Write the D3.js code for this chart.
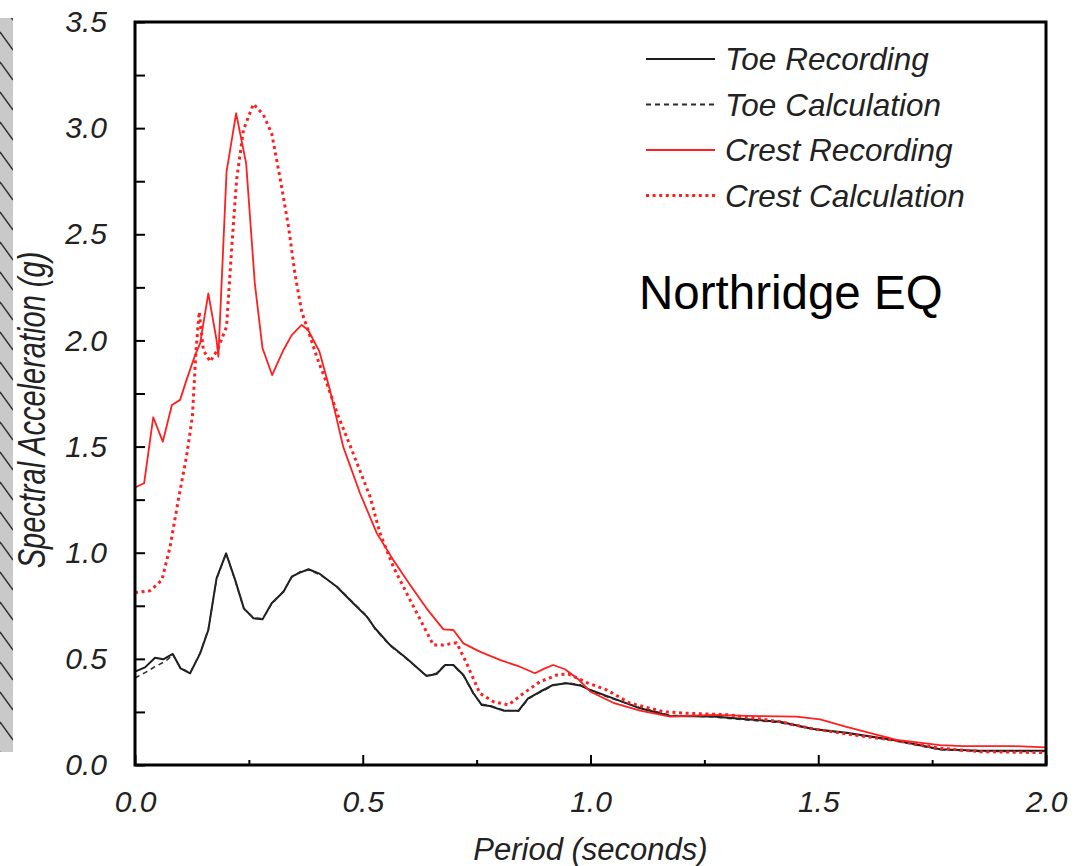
<!DOCTYPE html>
<html>
<head>
<meta charset="utf-8">
<script src="https://cdn.jsdelivr.net/npm/d3@7"></script>
<style>
  html, body { margin: 0; padding: 0; background: #fff; }
  svg { display: block; font-family: "Liberation Sans", Arial, sans-serif; }
</style>
</head>
<body>
<svg id="chart"></svg>
<script>
// spectral acceleration (g) vs period (s)
const toeRecording = [
  [0.000,0.440],[0.022,0.460],[0.044,0.505],[0.062,0.498],[0.083,0.523],[0.100,0.455],
  [0.121,0.432],[0.143,0.526],[0.161,0.636],[0.179,0.879],[0.200,0.997],[0.220,0.871],
  [0.239,0.738],[0.260,0.691],[0.280,0.686],[0.300,0.762],[0.326,0.816],[0.344,0.887],
  [0.362,0.906],[0.381,0.922],[0.406,0.900],[0.443,0.840],[0.479,0.762],[0.509,0.699],
  [0.527,0.644],[0.560,0.565],[0.596,0.503],[0.640,0.419],[0.662,0.429],[0.681,0.471],
  [0.699,0.471],[0.721,0.424],[0.743,0.338],[0.761,0.283],[0.779,0.278],[0.809,0.256],
  [0.842,0.256],[0.863,0.314],[0.889,0.345],[0.918,0.377],[0.948,0.385],[0.977,0.375],
  [1.000,0.353],[1.050,0.314],[1.109,0.267],[1.175,0.231],[1.270,0.228],[1.343,0.215],
  [1.416,0.204],[1.489,0.170],[1.562,0.152],[1.672,0.115],[1.767,0.074],[1.855,0.067],
  [2.000,0.067]
]
const toeCalculation = [
  [0.000,0.410],[0.022,0.435],[0.044,0.463],[0.068,0.490],[0.083,0.520],[0.100,0.458],
  [0.121,0.434],[0.143,0.528],[0.161,0.640],[0.179,0.875],[0.200,0.995],[0.220,0.868],
  [0.239,0.735],[0.260,0.694],[0.280,0.689],[0.300,0.758],[0.326,0.820],[0.344,0.884],
  [0.362,0.910],[0.381,0.918],[0.406,0.896],[0.443,0.842],[0.479,0.765],[0.509,0.702],
  [0.527,0.640],[0.560,0.562],[0.596,0.500],[0.640,0.421],[0.662,0.432],[0.681,0.474],
  [0.699,0.468],[0.721,0.420],[0.743,0.335],[0.761,0.286],[0.779,0.280],[0.809,0.259],
  [0.842,0.253],[0.863,0.310],[0.889,0.342],[0.918,0.374],[0.948,0.388],[0.977,0.378],
  [1.000,0.350],[1.050,0.311],[1.109,0.270],[1.175,0.234],[1.270,0.226],[1.343,0.212],
  [1.416,0.200],[1.489,0.168],[1.562,0.150],[1.672,0.112],[1.767,0.072],[1.855,0.064],
  [2.000,0.064]
]
const crestRecording = [
  [0.000,1.307],[0.020,1.327],[0.040,1.638],[0.061,1.523],[0.081,1.696],[0.099,1.720],
  [0.113,1.813],[0.132,1.931],[0.143,1.986],[0.161,2.222],[0.179,2.002],[0.183,1.923],
  [0.201,2.795],[0.222,3.070],[0.244,2.834],[0.263,2.269],[0.280,1.963],[0.301,1.837],
  [0.326,1.955],[0.344,2.025],[0.366,2.073],[0.380,2.049],[0.405,1.947],[0.428,1.766],
  [0.457,1.500],[0.494,1.280],[0.531,1.091],[0.567,0.966],[0.604,0.848],[0.640,0.738],
  [0.677,0.639],[0.699,0.636],[0.721,0.573],[0.757,0.534],[0.801,0.495],[0.845,0.463],
  [0.878,0.432],[0.900,0.455],[0.918,0.471],[0.944,0.451],[0.973,0.404],[1.000,0.345],
  [1.050,0.293],[1.109,0.256],[1.175,0.228],[1.270,0.236],[1.343,0.231],[1.452,0.228],
  [1.504,0.215],[1.562,0.180],[1.672,0.118],[1.767,0.094],[1.818,0.089],[1.928,0.089],
  [2.000,0.083]
]
const crestCalculation = [
  [0.000,0.812],[0.033,0.821],[0.059,0.871],[0.077,1.028],[0.095,1.248],[0.113,1.452],
  [0.126,1.641],[0.134,1.955],[0.141,2.135],[0.150,1.955],[0.165,1.900],[0.181,1.955],
  [0.201,2.065],[0.212,2.426],[0.223,2.756],[0.238,2.991],[0.260,3.114],[0.282,3.062],
  [0.300,2.976],[0.318,2.771],[0.337,2.536],[0.351,2.316],[0.366,2.135],[0.381,2.041],
  [0.399,1.923],[0.421,1.798],[0.445,1.650],[0.479,1.468],[0.516,1.264],[0.538,1.091],
  [0.567,0.934],[0.604,0.777],[0.655,0.565],[0.677,0.565],[0.706,0.576],[0.728,0.479],
  [0.757,0.338],[0.787,0.298],[0.820,0.283],[0.853,0.338],[0.889,0.392],[0.926,0.424],
  [0.951,0.429],[0.992,0.388],[1.036,0.353],[1.087,0.291],[1.160,0.251],[1.211,0.244],
  [1.306,0.236],[1.416,0.204],[1.489,0.170],[1.562,0.146],[1.672,0.115],[1.767,0.079],
  [1.855,0.063],[2.000,0.058]
]

const xMajorTicks = [0, 0.5, 1.0, 1.5, 2.0]
const xMinorTicks = [0.25, 0.75, 1.25, 1.75]
const yMajorTicks = [0, 0.5, 1.0, 1.5, 2.0, 2.5, 3.0, 3.5]
const yMinorTicks = [0.25, 0.75, 1.25, 1.75, 2.25, 2.75, 3.25]

const seriesNames = ['Toe Recording', 'Toe Calculation', 'Crest Recording', 'Crest Calculation']
const seriesData = [toeRecording, toeCalculation, crestRecording, crestCalculation]
const seriesStyle = [
  {color: '#1c1c1c', width: 2, dash: null},
  {color: '#2a2a2a', width: 1.5, dash: '5,4'},
  {color: '#ff1f1f', width: 1.8, dash: null},
  {color: '#ff1f1f', width: 3, dash: '3,3.6'}
]

const width = 1077, height = 866
const svg = d3.select('#chart').attr('width', width).attr('height', height)

// gray strip on the left edge (cropped neighbour image)
const pat = svg.append('defs').append('pattern')
  .attr('id', 'hatch').attr('patternUnits', 'userSpaceOnUse')
  .attr('width', 14).attr('height', 30)
pat.append('rect').attr('width', 14).attr('height', 30).attr('fill', '#c9c9c9')
pat.append('line').attr('x1', 0).attr('y1', 2).attr('x2', 13).attr('y2', 20)
  .attr('stroke', '#333').attr('stroke-width', 1.4)
svg.append('rect').attr('x', 0).attr('y', 18).attr('width', 13).attr('height', 734)
  .attr('fill', 'url(#hatch)')

const x = d3.scaleLinear().domain([0, 2]).range([135, 1046])
const y = d3.scaleLinear().domain([0, 3.5]).range([765, 22])

const line = d3.line().x(d => x(d[0])).y(d => y(d[1]))

const plot = svg.append('g')
seriesData.forEach((data, i) => {
  const s = seriesStyle[i]
  plot.append('path')
    .datum(data)
    .attr('d', line)
    .attr('fill', 'none')
    .attr('stroke', s.color)
    .attr('stroke-width', s.width)
    .attr('stroke-dasharray', s.dash)
    .attr('stroke-linejoin', 'round')
})

// axes: ticks point inward
const yMinor = svg.append('g').attr('transform', `translate(${x(0)},0)`)
  .call(d3.axisLeft(y).tickValues(yMinorTicks).tickSizeInner(-10).tickSizeOuter(0).tickFormat(''))
const yMajor = svg.append('g').attr('transform', `translate(${x(0)},0)`)
  .call(d3.axisLeft(y).tickValues(yMajorTicks).tickSizeInner(-10).tickSizeOuter(0)
    .tickPadding(28).tickFormat(d3.format('.1f')))
const xMinor = svg.append('g').attr('transform', `translate(0,${y(0)})`)
  .call(d3.axisBottom(x).tickValues(xMinorTicks).tickSizeInner(-5).tickSizeOuter(0).tickFormat(''))
const xMajor = svg.append('g').attr('transform', `translate(0,${y(0)})`)
  .call(d3.axisBottom(x).tickValues(xMajorTicks).tickSizeInner(-10).tickSizeOuter(0)
    .tickPadding(26).tickFormat(d3.format('.1f')))

;[yMinor, yMajor, xMinor, xMajor].forEach(g => {
  g.select('.domain').remove()
  g.selectAll('.tick line').attr('stroke', '#000').attr('stroke-width', 2)
  g.selectAll('.tick text')
    .attr('fill', '#222')
    .style('font-size', '30px')
    .style('font-style', 'italic')
})

// frame
svg.append('rect')
  .attr('x', x(0)).attr('y', y(3.5))
  .attr('width', x(2) - x(0)).attr('height', y(0) - y(3.5))
  .attr('fill', 'none').attr('stroke', '#000').attr('stroke-width', 3)

// axis titles
svg.append('text')
  .attr('x', (x(0) + x(2)) / 2).attr('y', 860)
  .attr('text-anchor', 'middle')
  .attr('fill', '#222')
  .style('font-size', '31px').style('font-style', 'italic')
  .text('Period (seconds)')

svg.append('text')
  .attr('transform', 'translate(45,410) rotate(-90) scale(0.88,1.15)')
  .attr('text-anchor', 'middle')
  .attr('fill', '#222')
  .style('font-size', '33px').style('font-style', 'italic')
  .text('Spectral Acceleration (g)')

// legend
const legend = svg.append('g')
seriesNames.forEach((name, i) => {
  const s = seriesStyle[i]
  const ly = 59 + i * 45.5
  legend.append('line')
    .attr('x1', 646).attr('x2', 715).attr('y1', ly).attr('y2', ly)
    .attr('stroke', s.color)
    .attr('stroke-width', i == 3 ? 3 : 2)
    .attr('stroke-dasharray', s.dash)
  legend.append('text')
    .attr('x', 725).attr('y', ly).attr('dy', '0.35em')
    .attr('fill', '#222')
    .style('font-size', '31.5px').style('font-style', 'italic')
    .text(name)
})

svg.append('text')
  .attr('x', 639).attr('y', 309)
  .attr('fill', '#000')
  .style('font-size', '47.5px')
  .text('Northridge EQ')
</script>
</body>
</html>
